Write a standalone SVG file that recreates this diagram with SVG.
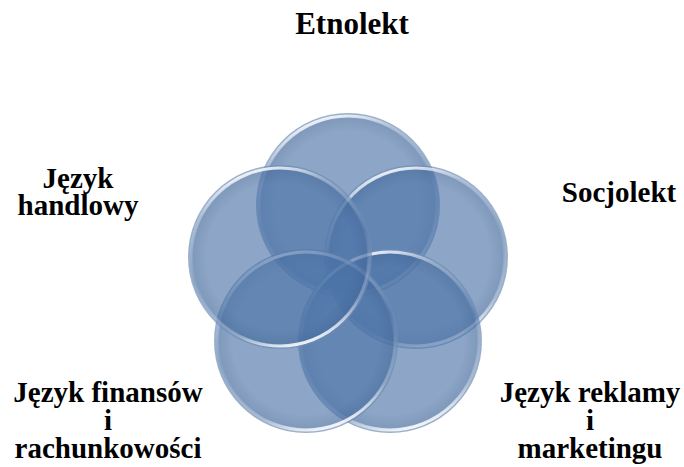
<svg xmlns="http://www.w3.org/2000/svg" width="684" height="467" viewBox="0 0 684 467">
<style>
.lbl{font-family:"Liberation Serif","DejaVu Serif","Times New Roman",serif;font-weight:bold;font-size:29px;fill:#000;text-anchor:middle}
.disc{fill:#4c74a7;fill-opacity:0.64}
.shade{fill:url(#edge)}
.rim{fill:none;stroke:url(#gloss);stroke-width:3}
</style>
<defs>
<radialGradient id="edge" cx="0.5" cy="0.5" r="0.5">
<stop offset="0.8" stop-color="#1f3f6e" stop-opacity="0"/>
<stop offset="0.94" stop-color="#1f3f6e" stop-opacity="0.12"/>
<stop offset="1" stop-color="#ffffff" stop-opacity="0.15"/>
</radialGradient>
<linearGradient id="gloss" x1="0.3" y1="0" x2="0.6" y2="1">
<stop offset="0" stop-color="#ffffff" stop-opacity="0.95"/>
<stop offset="0.18" stop-color="#ffffff" stop-opacity="0.3"/>
<stop offset="0.5" stop-color="#ffffff" stop-opacity="0"/>
<stop offset="0.85" stop-color="#ffffff" stop-opacity="0.25"/>
<stop offset="1" stop-color="#ffffff" stop-opacity="0.9"/>
</linearGradient>
</defs>
<g id="connectors"></g>
<g id="etnolekt">
<circle class="disc" cx="348" cy="205" r="92"/>
<circle class="shade" cx="348" cy="205" r="92"/>
<circle class="rim" cx="348" cy="205" r="89"/>
<text class="lbl" x="352" y="34" style="font-size:31px">Etnolekt</text>
</g>
<g id="socjolekt">
<circle class="disc" cx="416" cy="257" r="92"/>
<circle class="shade" cx="416" cy="257" r="92"/>
<circle class="rim" cx="416" cy="257" r="89"/>
<text class="lbl" x="619" y="202">Socjolekt</text>
</g>
<g id="reklama">
<circle class="disc" cx="390" cy="341" r="92"/>
<circle class="shade" cx="390" cy="341" r="92"/>
<circle class="rim" cx="390" cy="341" r="89"/>
<text class="lbl" x="590" y="402">Język reklamy</text>
<text class="lbl" x="590" y="430">i</text>
<text class="lbl" x="590" y="458">marketingu</text>
</g>
<g id="finanse">
<circle class="disc" cx="306" cy="341" r="92"/>
<circle class="shade" cx="306" cy="341" r="92"/>
<circle class="rim" cx="306" cy="341" r="89"/>
<text class="lbl" x="108" y="402">Język finansów</text>
<text class="lbl" x="108" y="430">i</text>
<text class="lbl" x="108" y="458">rachunkowości</text>
</g>
<g id="handlowy">
<circle class="disc" cx="280" cy="257" r="92"/>
<circle class="shade" cx="280" cy="257" r="92"/>
<circle class="rim" cx="280" cy="257" r="89"/>
<text class="lbl" x="78" y="188">Język</text>
<text class="lbl" x="78" y="215">handlowy</text>
</g>
</svg>
